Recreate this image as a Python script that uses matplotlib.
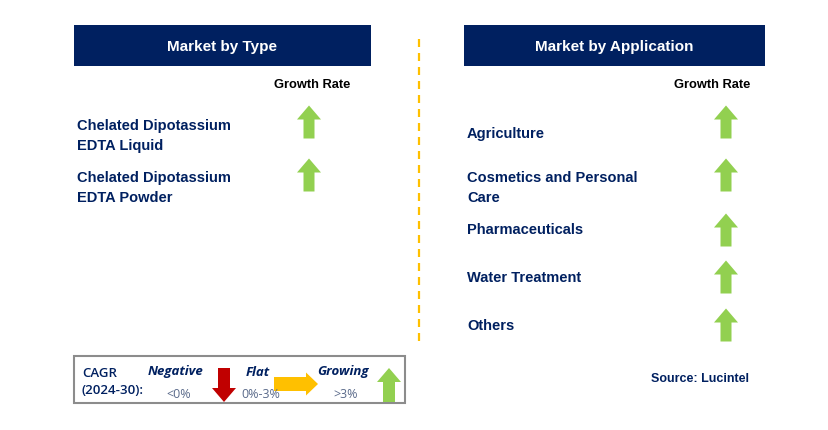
import matplotlib
matplotlib.use("Agg")
import matplotlib.pyplot as plt
from matplotlib.patches import Rectangle, Polygon

# ---- data ----
type_categories = ["Chelated Dipotassium\nEDTA Liquid", "Chelated Dipotassium\nEDTA Powder"]
type_growth = ["growing", "growing"]
app_categories = ["Agriculture", "Cosmetics and Personal\nCare", "Pharmaceuticals",
                  "Water Treatment", "Others"]
app_growth = ["growing", "growing", "growing", "growing", "growing"]
legend_labels = ["Negative", "Flat", "Growing"]
legend_ranges = ["<0%", "0%-3%", ">3%"]
cagr_label = "CAGR\n(2024-30):"
source_text = "Source: Lucintel"

NAVY = "#002060"
GREEN = "#92D050"
RED = "#C00000"
YELLOW = "#FFC000"
FONT = "Liberation Sans"

fig = plt.figure(figsize=(8.29, 4.30), dpi=100)
ax = fig.add_axes([0, 0, 1, 1])
ax.set_xlim(0, 829)
ax.set_ylim(430, 0)
ax.axis("off")


def arrow(cx, cy, direction, color, length=33, head_w=24, shaft_w=11, head_l=14):
    h = length / 2
    if direction == "up":
        pts = [(cx, cy - h), (cx + head_w / 2, cy - h + head_l), (cx + shaft_w / 2, cy - h + head_l),
               (cx + shaft_w / 2, cy + h), (cx - shaft_w / 2, cy + h),
               (cx - shaft_w / 2, cy - h + head_l), (cx - head_w / 2, cy - h + head_l)]
    elif direction == "down":
        pts = [(cx, cy + h), (cx + head_w / 2, cy + h - head_l), (cx + shaft_w / 2, cy + h - head_l),
               (cx + shaft_w / 2, cy - h), (cx - shaft_w / 2, cy - h),
               (cx - shaft_w / 2, cy + h - head_l), (cx - head_w / 2, cy + h - head_l)]
    else:  # right
        pts = [(cx + h, cy), (cx + h - head_l, cy - head_w / 2), (cx + h - head_l, cy - shaft_w / 2),
               (cx - h, cy - shaft_w / 2), (cx - h, cy + shaft_w / 2),
               (cx + h - head_l, cy + shaft_w / 2), (cx + h - head_l, cy + head_w / 2)]
    ax.add_patch(Polygon(pts, closed=True, facecolor=color, edgecolor="none"))


growth_style = {"growing": ("up", GREEN), "flat": ("right", YELLOW), "negative": ("down", RED)}

# headers
ax.add_patch(Rectangle((74, 25), 297, 41, facecolor=NAVY, edgecolor="none"))
ax.text(222.5, 46.5, "Market by Type", color="white", fontsize=11, fontweight="bold",
        family=FONT, ha="center", va="center")
ax.add_patch(Rectangle((464, 25), 301, 41, facecolor=NAVY, edgecolor="none"))
ax.text(614.5, 46.5, "Market by Application", color="white", fontsize=11, fontweight="bold",
        family=FONT, ha="center", va="center")

# divider
ax.plot([419, 419], [39, 341], color=YELLOW, lw=1.6, ls=(0, (3.6, 2.7)))

# growth rate headings
ax.text(312, 85, "Growth Rate", color="black", fontsize=9.3, fontweight="bold", family=FONT,
        ha="center", va="center")
ax.text(712, 85, "Growth Rate", color="black", fontsize=9.3, fontweight="bold", family=FONT,
        ha="center", va="center")

# type items
type_text_y = [136, 188]
type_arrow_y = [122, 175]
for lab, g, ty, ay in zip(type_categories, type_growth, type_text_y, type_arrow_y):
    ax.text(77, ty, lab, color=NAVY, fontsize=10.5, fontweight="bold", family=FONT,
            ha="left", va="center", linespacing=1.6)
    d, c = growth_style[g]
    arrow(309, ay, d, c)

# application items
app_text_y = [134, 188, 230, 278, 326]
app_arrow_y = [122, 175, 230, 277, 325]
for lab, g, ty, ay in zip(app_categories, app_growth, app_text_y, app_arrow_y):
    ax.text(467, ty, lab, color=NAVY, fontsize=10.5, fontweight="bold", family=FONT,
            ha="left", va="center", linespacing=1.6)
    d, c = growth_style[g]
    arrow(726, ay, d, c)

# legend box
ax.add_patch(Rectangle((74, 356), 331, 47, facecolor="white", edgecolor="#8C8C8C", lw=1.5))
ax.text(82, 382, cagr_label, color=NAVY, fontsize=9.5, fontweight="semibold", family="Open Sans",
        ha="left", va="center", linespacing=1.35)
leg_x = [176, 258, 343]
leg_dirs = [("down", RED, 224, 385), ("right", YELLOW, 296, 384), ("up", GREEN, 389, 385)]
for lab, rng, x in zip(legend_labels, legend_ranges, leg_x):
    ax.text(x, 372, lab, color=NAVY, fontsize=9.5, fontweight="bold", fontstyle="italic",
            family="Open Sans", ha="center", va="center")
    ax.text(x + 3, 394, rng, color="#5A6A8A", fontsize=9, family="Open Sans",
            ha="center", va="center")
for d, c, x, y in leg_dirs:
    if d == "right":
        arrow(x, y, d, c, length=44, head_w=23, shaft_w=14, head_l=12)
    else:
        arrow(x, y, d, c, length=34, head_w=24, shaft_w=12, head_l=14)

# source
ax.text(700, 379, source_text, color=NAVY, fontsize=9, fontweight="bold", family=FONT,
        ha="center", va="center")

fig.savefig("out.png", dpi=100, facecolor="white")
